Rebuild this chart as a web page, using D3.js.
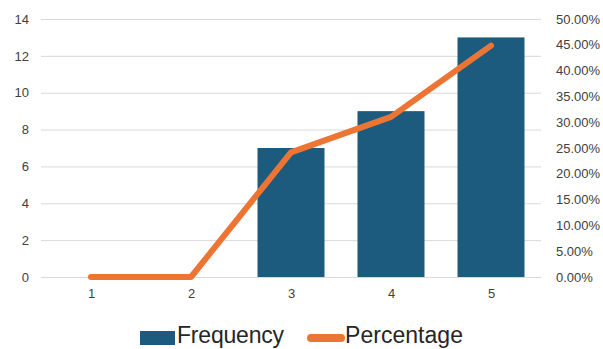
<!DOCTYPE html>
<html><head><meta charset="utf-8">
<script src="https://cdn.jsdelivr.net/npm/d3@7"></script>
<style>body{margin:0;background:#fff}svg{display:block}</style>
</head><body>
<script>
const categories = ["1","2","3","4","5"];
const frequency = [0,0,7,9,13];
const percentage = [0,0,24.14,31.03,44.83];
const leftTicks = [0,2,4,6,8,10,12,14];
const rightTicks = [0,5,10,15,20,25,30,35,40,45,50];

const W=603,H=349;
const svg=d3.select("body").append("svg").attr("width",W).attr("height",H);
const x=d3.scaleBand().domain(categories).range([41,541]).paddingInner(0.33).paddingOuter(0.165);
const xc=d3.scalePoint().domain(categories).range([91,491]);
const yL=d3.scaleLinear().domain([0,14]).range([277,19]);
const yR=d3.scaleLinear().domain([0,50]).range([277,19]);
const font="'Liberation Sans', Arial, sans-serif";

svg.append("g").selectAll("line").data(leftTicks).join("line")
 .attr("x1",41).attr("x2",541).attr("y1",d=>yL(d)+0.5).attr("y2",d=>yL(d)+0.5)
 .attr("stroke","#d9d9d9").attr("stroke-width",1);

const gl=svg.append("g").attr("transform","translate(29,0)").call(d3.axisLeft(yL).tickValues(leftTicks).tickSize(0).tickPadding(0));
const gr=svg.append("g").attr("transform","translate(556,0)").call(d3.axisRight(yR).tickValues(rightTicks).tickFormat(d=>d.toFixed(2)+"%").tickSize(0).tickPadding(0));
const gx=svg.append("g").attr("transform","translate(0,289)").call(d3.axisBottom(xc).tickSize(0).tickPadding(0));
[gl,gr,gx].forEach(g=>{g.select(".domain").remove();g.selectAll("text").attr("fill","#404040").style("font-family",font).style("font-size","13px");});

svg.append("g").selectAll("rect").data(frequency).join("rect")
 .attr("x",(d,i)=>x(categories[i])).attr("width",x.bandwidth())
 .attr("y",d=>yL(d)).attr("height",d=>yL(0)-yL(d)).attr("fill","#1c5b7e");

svg.append("path").datum(percentage)
 .attr("d",d3.line().x((d,i)=>xc(categories[i])).y(d=>yR(d)))
 .attr("fill","none").attr("stroke","#ec7533").attr("stroke-width",6)
 .attr("stroke-linecap","round").attr("stroke-linejoin","round");

const lg=svg.append("g");
lg.append("rect").attr("x",140).attr("y",331).attr("width",35).attr("height",14).attr("fill","#1c5b7e");
lg.append("text").attr("x",177).attr("y",343).text("Frequency").attr("textLength",107).style("font-family",font).style("font-size","23px").attr("fill","#262626");
lg.append("line").attr("x1",311).attr("x2",341).attr("y1",338).attr("y2",338).attr("stroke","#ec7533").attr("stroke-width",8).attr("stroke-linecap","round");
lg.append("text").attr("x",345).attr("y",343).text("Percentage").attr("textLength",118).style("font-family",font).style("font-size","23px").attr("fill","#262626");
</script>
</body></html>
